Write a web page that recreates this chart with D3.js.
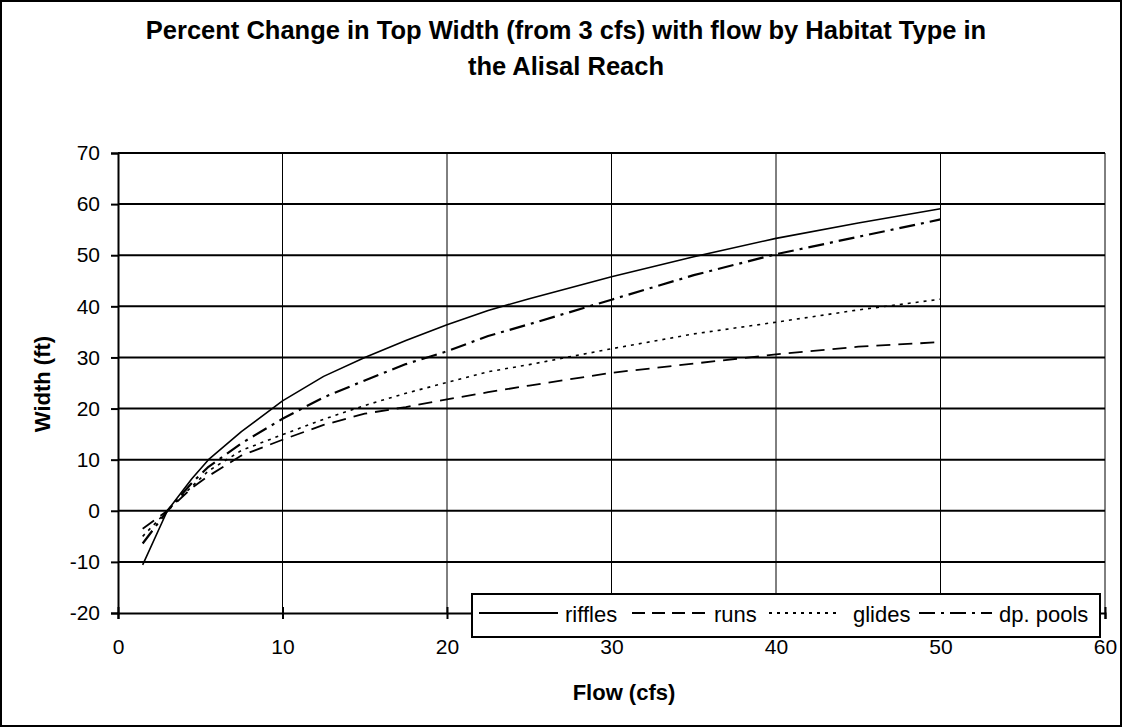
<!DOCTYPE html>
<html>
<head>
<meta charset="utf-8">
<script src="https://cdn.jsdelivr.net/npm/d3@7"></script>
<style>
  html, body { margin: 0; padding: 0; background: #fff; }
  svg { display: block; font-family: Arial, "Liberation Sans", sans-serif; }
</style>
</head>
<body>
<svg id="chart" width="1122" height="727"></svg>
<script>
// Data
const flows = [1.5, 3, 4.5, 5.5, 7.5, 10, 12.5, 15, 17.5, 20, 22.5, 25, 30, 35, 40, 45, 50];
const riffles = [-10.6, 0, 6.3, 10.0, 15.5, 21.5, 26.3, 30.0, 33.3, 36.4, 39.2, 41.5, 45.8, 49.7, 53.3, 56.3, 59.1];
const runs = [-3.5, 0, 4.5, 6.8, 10.8, 13.9, 16.8, 19.0, 20.3, 21.8, 23.2, 24.5, 27.0, 28.8, 30.6, 32.1, 33.0];
const glides = [-5.0, 0, 4.8, 7.8, 11.8, 14.9, 17.9, 20.6, 23.0, 25.1, 27.2, 28.6, 31.7, 34.6, 36.9, 39.3, 41.4];
const dpPools = [-6.4, 0, 5.5, 8.6, 13.2, 18.0, 22.2, 25.5, 28.7, 31.2, 34.2, 36.5, 41.3, 46.1, 50.2, 53.6, 57.0];

const seriesNames = ["riffles", "runs", "glides", "dp. pools"];
const seriesValues = [riffles, runs, glides, dpPools];
const xTicks = [0, 10, 20, 30, 40, 50, 60];
const yTicks = [-20, -10, 0, 10, 20, 30, 40, 50, 60, 70];

const titleLines = ["Percent Change in Top Width (from 3 cfs) with flow by Habitat Type in", "the Alisal Reach"];

// Styles
const FONT = "Arial, 'Liberation Sans', sans-serif";
const STYLES = [
  { dash: null, width: 1.6 },
  { dash: "14,8", width: 1.8 },
  { dash: "3,5", width: 1.6 },
  { dash: "16,6,3,6", width: 2.2 }
];

const W = 1122, H = 727;
const margin = { top: 153, right: 17, bottom: 114, left: 118 };

const svg = d3.select("#chart");

// outer frame
svg.append("rect")
  .attr("x", 1).attr("y", 1).attr("width", W - 2).attr("height", H - 2)
  .attr("fill", "#fff").attr("stroke", "#000").attr("stroke-width", 2);

const x = d3.scaleLinear().domain([0, 60]).range([margin.left, W - margin.right]);
const y = d3.scaleLinear().domain([-20, 70]).range([H - margin.bottom, margin.top]);

// gridlines
svg.append("g")
  .selectAll("line").data(yTicks.filter(d => d !== -20)).enter().append("line")
  .attr("x1", x(0)).attr("x2", x(60))
  .attr("y1", d => y(d)).attr("y2", d => y(d))
  .attr("stroke", "#000").attr("stroke-width", 2);

svg.append("g")
  .selectAll("line").data(xTicks.filter(d => d !== 0)).enter().append("line")
  .attr("x1", d => x(d)).attr("x2", d => x(d))
  .attr("y1", y(70)).attr("y2", y(-20))
  .attr("stroke", "#000").attr("stroke-width", 1);

// axes (hyphen minus like the original, not the unicode one)
const fmt = d => String(d);
const yAxis = svg.append("g")
  .attr("transform", `translate(${x(0)},0)`)
  .call(d3.axisLeft(y).tickValues(yTicks).tickFormat(fmt).tickSize(7).tickPadding(11));
const xAxis = svg.append("g")
  .attr("transform", `translate(0,${y(-20)})`)
  .call(d3.axisBottom(x).tickValues(xTicks).tickFormat(fmt).tickSize(6).tickPadding(20));

[xAxis, yAxis].forEach(g => {
  g.attr("font-size", null).attr("font-family", null);
  g.select(".domain").attr("stroke", "#000").attr("stroke-width", 2);
  g.selectAll(".tick line").attr("stroke", "#000").attr("stroke-width", 2);
  g.selectAll(".tick text").attr("fill", "#000").style("font-size", "21px")
    .style("font-family", FONT);
});
// x ticks cross the axis
xAxis.selectAll(".tick line").attr("y1", -6).attr("y2", 6);

// series lines
const line = d3.line().x(d => x(d[0])).y(d => y(d[1]));
seriesValues.forEach((vals, i) => {
  svg.append("path")
    .datum(flows.map((f, j) => [f, vals[j]]))
    .attr("d", line)
    .attr("fill", "none")
    .attr("stroke", "#000")
    .attr("stroke-width", STYLES[i].width)
    .attr("stroke-dasharray", STYLES[i].dash)
    .attr("stroke-linejoin", "round");
});

// title
svg.append("text")
  .attr("text-anchor", "middle")
  .style("font-size", "25.5px").style("font-weight", "bold")
  .selectAll("tspan").data(titleLines).enter().append("tspan")
  .attr("x", 566).attr("y", (d, i) => i === 0 ? 39 : 75)
  .text(d => d);

// axis titles
svg.append("text")
  .attr("x", 624).attr("y", 700)
  .attr("text-anchor", "middle")
  .style("font-size", "22px").style("font-weight", "bold")
  .text("Flow (cfs)");

svg.append("text")
  .attr("transform", `translate(50,384) rotate(-90)`)
  .attr("text-anchor", "middle")
  .style("font-size", "22px").style("font-weight", "bold")
  .text("Width (ft)");

// legend
const legend = svg.append("g").attr("transform", "translate(472,594)");
legend.append("rect")
  .attr("width", 628).attr("height", 43)
  .attr("fill", "#fff").attr("stroke", "#000").attr("stroke-width", 2);

const legendItems = [
  { x0: 7, x1: 86, tx: 93 },
  { x0: 160, x1: 234, tx: 242 },
  { x0: 297, x1: 367, tx: 381 },
  { x0: 447, x1: 520, tx: 527 }
];
const legendDash = [null, "13,7", "3,5", "16,6,3,6"];
seriesNames.forEach((name, i) => {
  const it = legendItems[i];
  legend.append("line")
    .attr("x1", it.x0).attr("x2", it.x1).attr("y1", 19).attr("y2", 19)
    .attr("stroke", "#000").attr("stroke-width", 2)
    .attr("stroke-dasharray", legendDash[i]);
  legend.append("text")
    .attr("x", it.tx).attr("y", 28)
    .style("font-size", "22px")
    .text(name);
});
</script>
</body>
</html>
